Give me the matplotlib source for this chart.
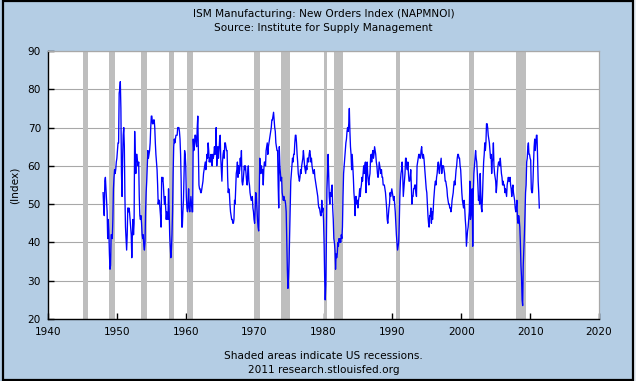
import numpy as np
import pandas as pd
import matplotlib
matplotlib.use("Agg")
import matplotlib.pyplot as plt
from matplotlib.patches import Rectangle

title_line1 = "ISM Manufacturing: New Orders Index (NAPMNOI)"
title_line2 = "Source: Institute for Supply Management"
y_label = "(Index)"
note_line1 = "Shaded areas indicate US recessions."
note_line2 = "2011 research.stlouisfed.org"

start_month = "1948-01"

# monthly values
orders_1948_1955 = [
    53, 49, 47, 56, 57, 54, 51, 48, 41, 46, 43, 37,
    33, 34, 42, 42, 41, 46, 54, 57, 59, 58, 59, 61,
    62, 64, 66, 66, 79, 80, 82, 75, 58, 52, 62, 68,
    70, 65, 52, 44, 41, 38, 42, 49, 48, 49, 48, 46,
    44, 42, 36, 42, 46, 42, 45, 69, 62, 58, 63, 63,
    61, 60, 61, 52, 47, 46, 47, 45, 42, 41, 42, 39,
    38, 40, 48, 53, 56, 60, 64, 62, 63, 64, 66, 70,
    73, 73, 71, 71, 72, 72, 70, 66, 63, 61, 59, 55,
]
orders_1956_1963 = [
    50, 51, 51, 49, 47, 44, 57, 56, 57, 55, 52, 50,
    52, 49, 46, 48, 47, 46, 54, 49, 42, 39, 36, 38,
    42, 48, 58, 65, 67, 66, 67, 68, 68, 68, 70, 70,
    70, 69, 67, 63, 56, 44, 44, 48, 51, 58, 64, 63,
    60, 52, 49, 48, 50, 54, 49, 48, 50, 52, 50, 48,
    48, 67, 64, 65, 68, 68, 66, 65, 70, 73, 64, 55,
    54, 54, 53, 53, 54, 55, 56, 58, 59, 60, 61, 59,
    61, 63, 62, 66, 64, 61, 62, 61, 63, 62, 60, 63,
]
orders_1964_1971 = [
    62, 63, 65, 63, 64, 70, 60, 63, 65, 62, 64, 67,
    68, 62, 59, 56, 61, 63, 64, 62, 66, 66, 65, 64,
    64, 57, 53, 54, 53, 50, 48, 47, 46, 46, 45, 45,
    46, 51, 50, 54, 58, 59, 61, 57, 60, 58, 59, 62,
    60, 64, 56, 55, 56, 58, 60, 59, 60, 58, 56, 55,
    58, 60, 56, 55, 53, 52, 51, 51, 52, 49, 48, 46,
    45, 49, 53, 52, 49, 46, 44, 43, 53, 62, 58, 60,
    60, 58, 59, 55, 59, 61, 61, 60, 64, 65, 66, 63,
]
orders_1972_1979 = [
    65, 66, 67, 68, 69, 70, 72, 72, 73, 74, 72, 70,
    69, 66, 65, 64, 64, 55, 49, 65, 60, 58, 56, 57,
    53, 52, 51, 52, 51, 51, 50, 48, 40, 33, 28, 31,
    35, 42, 50, 56, 58, 60, 62, 61, 63, 63, 66, 68,
    68, 66, 63, 61, 58, 57, 56, 57, 59, 58, 60, 61,
    62, 64, 62, 60, 59, 58, 60, 59, 62, 62, 61, 63,
    64, 63, 61, 62, 60, 59, 58, 58, 59, 57, 56, 55,
    54, 53, 52, 50, 49, 49, 48, 47, 47, 51, 48, 49,
]
orders_1980_1987 = [
    46, 40, 31, 25, 29, 40, 54, 58, 63, 58, 52, 50,
    53, 52, 54, 55, 49, 46, 41, 40, 38, 33, 37, 36,
    37, 40, 39, 41, 40, 41, 40, 42, 41, 44, 52, 58,
    60, 62, 64, 66, 67, 69, 70, 69, 71, 75, 69, 65,
    63, 59, 63, 60, 57, 53, 51, 47, 52, 52, 50, 51,
    49, 51, 52, 54, 52, 54, 55, 57, 56, 58, 60, 58,
    60, 61, 53, 58, 61, 58, 56, 55, 57, 58, 62, 63,
    61, 63, 64, 62, 63, 65, 64, 63, 61, 60, 58, 57,
]
orders_1988_1995 = [
    58, 61, 60, 59, 58, 59, 57, 57, 55, 55, 55, 54,
    53, 51, 49, 46, 45, 47, 49, 50, 53, 52, 53, 54,
    53, 52, 51, 52, 50, 48, 45, 42, 40, 38, 39, 40,
    45, 52, 56, 58, 59, 61, 58, 52, 54, 56, 58, 62,
    62, 60, 59, 61, 58, 56, 56, 57, 59, 55, 50, 52,
    52, 54, 54, 55, 55, 53, 52, 60, 61, 62, 63, 63,
    62, 62, 64, 65, 63, 62, 63, 62, 60, 58, 56, 54,
    53, 50, 47, 45, 44, 47, 47, 49, 45, 48, 46, 48,
]
orders_1996_2003 = [
    51, 53, 55, 56, 55, 57, 58, 60, 61, 59, 58, 60,
    61, 62, 58, 60, 60, 60, 59, 58, 56, 56, 55, 54,
    52, 51, 50, 50, 49, 49, 48, 49, 51, 52, 53, 55,
    56, 55, 57, 59, 60, 62, 63, 63, 62, 62, 60, 59,
    56, 53, 51, 50, 49, 51, 49, 46, 44, 39, 41, 43,
    44, 46, 48, 56, 46, 47, 49, 54, 39, 53, 58, 60,
    62, 64, 62, 61, 58, 55, 51, 52, 50, 58, 53, 49,
    48, 52, 57, 61, 63, 66, 64, 66, 71, 71, 70, 68,
]
orders_2004_2011 = [
    67, 66, 64, 62, 63, 58, 61, 62, 66, 60, 58, 57,
    56, 53, 55, 58, 60, 61, 61, 60, 62, 60, 58, 57,
    55, 56, 55, 55, 53, 54, 53, 52, 55, 56, 57, 56,
    56, 57, 55, 54, 52, 54, 55, 53, 52, 51, 49, 48,
    49, 51, 46, 45, 47, 46, 44, 40, 34, 31, 25, 23.5,
    34, 38, 42, 47, 53, 55, 61, 62, 65, 66, 63, 63,
    62, 61.5, 54, 53, 53, 56, 61, 65, 67, 64, 66, 68,
    68, 62, 56, 53, 49,
]

recession_start = [1945.083, 1948.833, 1953.5, 1957.583, 1960.25, 1969.917,
                   1973.833, 1980.0, 1981.5, 1990.5, 2001.167, 2007.917]
recession_end = [1945.75, 1949.75, 1954.333, 1958.25, 1961.083, 1970.833,
                 1975.167, 1980.5, 1982.833, 1991.167, 2001.833, 2009.417]

x_ticks = [1940, 1950, 1960, 1970, 1980, 1990, 2000, 2010, 2020]
y_ticks = [20, 30, 40, 50, 60, 70, 80, 90]

values = np.array(orders_1948_1955 + orders_1956_1963 + orders_1964_1971 +
                  orders_1972_1979 + orders_1980_1987 + orders_1988_1995 +
                  orders_1996_2003 + orders_2004_2011, dtype=float)
dates = pd.period_range(start=start_month, periods=len(values), freq="M")
years = dates.year + (dates.month - 1) / 12.0

W, H = 636, 381
BG = "#B4CDE4"
fig = plt.figure(figsize=(W / 100, H / 100), dpi=100, facecolor=BG)

# light outer strip and black frame
fig.patches.append(Rectangle((633 / W, 0), 3 / W, 1, transform=fig.transFigure,
                             facecolor="#E6ECF3", edgecolor="none", zorder=0))
fig.patches.append(Rectangle((3.5 / W, 1 - 379.5 / H), 629 / W, 378.5 / H,
                             transform=fig.transFigure, facecolor="none",
                             edgecolor="black", linewidth=1.6, zorder=1))

ax = fig.add_axes([48 / W, 1 - 319 / H, 551 / W, 268 / H])
ax.set_facecolor("white")

for s, e in zip(recession_start, recession_end):
    ax.axvspan(s, e, color="#BEBEBE", lw=0, zorder=2)

ax.plot(years, values, color="#0000FF", lw=0.95, zorder=3)

ax.set_xlim(1940, 2020)
ax.set_ylim(20, 90)
ax.set_xticks(x_ticks)
ax.set_yticks(y_ticks)
ax.set_xticklabels([str(t) for t in x_ticks])
ax.set_yticklabels([str(t) for t in y_ticks])
ax.grid(axis="y", color="#A8A8A8", lw=0.8, zorder=1)
ax.grid(axis="x", visible=False)
ax.set_axisbelow(True)

for side in ["left", "bottom"]:
    ax.spines[side].set_color("black")
    ax.spines[side].set_linewidth(1.0)
for side in ["top", "right"]:
    ax.spines[side].set_color("#A8A8A8")
    ax.spines[side].set_linewidth(0.9)
for sp in ax.spines.values():
    sp.set_zorder(4)

ax.tick_params(axis="both", direction="in", length=4, width=1, color="black",
               labelsize=7.6, labelcolor="black")
ax.tick_params(axis="y", pad=5)
ax.tick_params(axis="x", pad=6)

ax.set_ylabel(y_label, fontsize=7.6, labelpad=6)

cx = (48 + 599) / 2 / W
fig.text(cx, 1 - 14 / H, title_line1, ha="center", va="center", fontsize=7.6)
fig.text(cx, 1 - 28 / H, title_line2, ha="center", va="center", fontsize=7.6)
fig.text(cx, 1 - 356 / H, note_line1, ha="center", va="center", fontsize=7.6)
fig.text(cx, 1 - 370 / H, note_line2, ha="center", va="center", fontsize=7.6)

fig.savefig("out.png", dpi=100, facecolor=BG)
